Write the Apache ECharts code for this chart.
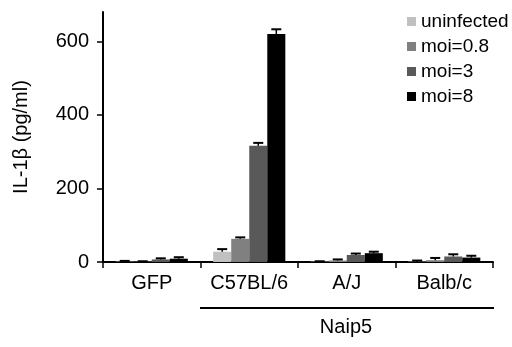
<!DOCTYPE html>
<html>
<head>
    <meta charset="UTF-8"/>
    <script type="text/javascript" src="https://cdn.jsdelivr.net/npm/echarts@6/dist/echarts.min.js"></script>
    <title>IL-1b</title>
    <style>
        html, body {margin: 0; padding: 0; background: #fff;}
        #chart {width: 512px; height: 347px;}
    </style>
</head>
<body>
<div id="chart"></div>
<script>
    // data
    var strains = ['GFP', 'C57BL/6', 'A/J', 'Balb/c'];
    var seriesNames = ['uninfected', 'moi=0.8', 'moi=3', 'moi=8'];
    var uninfected = [1, 28, 1, 1];
    var moi08 = [1, 63, 4, 5];
    var moi3 = [7, 316, 19, 15];
    var moi8 = [9, 620, 24, 12];
    var errUninfected = [2, 7, 1, 3];
    var errMoi08 = [1, 4, 3, 6];
    var errMoi3 = [3, 8, 4, 6];
    var errMoi8 = [4, 13, 4, 5];
    var yTicks = [0, 200, 400, 600];
    var colors = ['#c0c0c0', '#808080', '#595959', '#000000'];

    var values = [uninfected, moi08, moi3, moi8];
    var errors = [errUninfected, errMoi08, errMoi3, errMoi8];
    var font = 'Liberation Sans, Arial, sans-serif';
    var catGap = 0.26;

    var series = [];
    for (var s = 0; s < values.length; s++) {
        series.push({
            name: seriesNames[s],
            type: 'bar',
            data: values[s],
            barGap: '0%',
            barCategoryGap: (catGap * 100) + '%',
            itemStyle: {color: colors[s]},
            z: 2
        });
    }
    // error bars, one custom series per group member
    for (var k = 0; k < values.length; k++) {
        (function (idx) {
            var data = [];
            for (var i = 0; i < strains.length; i++) {
                data.push([i, values[idx][i], values[idx][i] + errors[idx][i]]);
            }
            series.push({
                type: 'custom',
                data: data,
                z: 3,
                silent: true,
                renderItem: function (params, api) {
                    var band = api.size([1, 0])[0];
                    var w = band * (1 - catGap) / 4;
                    var off = (idx - 1.5) * w;
                    var lo = api.coord([api.value(0), api.value(1)]);
                    var hi = api.coord([api.value(0), api.value(2)]);
                    var x = lo[0] + off;
                    var st = {stroke: '#000', lineWidth: 1.5};
                    return {
                        type: 'group',
                        children: [
                            {type: 'line', shape: {x1: x, y1: lo[1], x2: x, y2: hi[1]}, style: st},
                            {type: 'line', shape: {x1: x - 5, y1: hi[1], x2: x + 5, y2: hi[1]}, style: {stroke: '#000', lineWidth: 2}}
                        ]
                    };
                }
            });
        })(k);
    }

    var chart = echarts.init(document.getElementById('chart'), null, {renderer: 'canvas'});
    chart.setOption({
        animation: false,
        backgroundColor: '#fff',
        textStyle: {fontFamily: font},
        grid: {left: 103, right: 19, top: 12, bottom: 85},
        legend: {
            data: seriesNames,
            orient: 'vertical',
            left: 402,
            top: 7,
            icon: 'rect',
            itemWidth: 9,
            itemHeight: 9,
            itemGap: 6,
            textStyle: {fontSize: 19, color: '#000', fontFamily: font}
        },
        xAxis: {
            type: 'category',
            data: strains,
            axisLine: {lineStyle: {color: '#000', width: 2}},
            axisTick: {show: true, length: 6, lineStyle: {color: '#000', width: 1.5}},
            axisLabel: {interval: 0, hideOverlap: false, fontSize: 20, color: '#000', margin: 11, fontFamily: font}
        },
        yAxis: {
            type: 'value',
            min: 0,
            max: 680,
            name: 'IL-1β (pg/ml)',
            nameLocation: 'middle',
            nameGap: 72,
            nameTextStyle: {fontSize: 20, color: '#000', fontFamily: font},
            splitLine: {show: false},
            axisLine: {show: true, lineStyle: {color: '#000', width: 2}},
            axisTick: {show: true, length: 6, customValues: yTicks, lineStyle: {color: '#000', width: 1.5}},
            axisLabel: {fontSize: 20, color: '#000', margin: 14, customValues: yTicks, fontFamily: font}
        },
        graphic: [
            {type: 'line', shape: {x1: 200, y1: 308, x2: 494, y2: 308}, style: {stroke: '#000', lineWidth: 2}},
            {type: 'text', x: 346, y: 327, style: {text: 'Naip5', fill: '#000', font: '20px ' + font, textAlign: 'center', textVerticalAlign: 'middle'}}
        ],
        series: series
    });
</script>
</body>
</html>
